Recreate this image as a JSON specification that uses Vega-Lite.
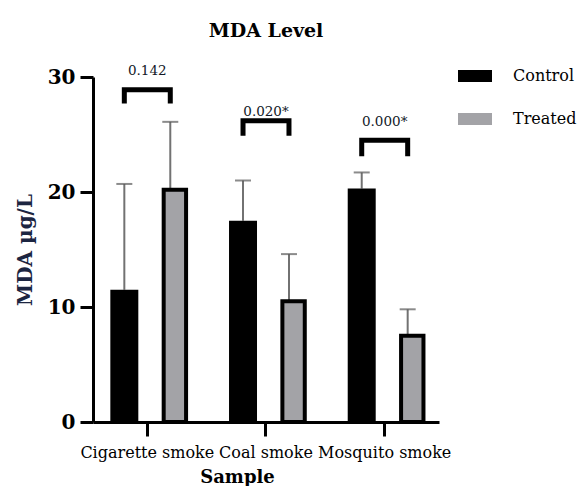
{
  "$schema": "https://vega.github.io/schema/vega-lite/v6.json",
  "width": 346,
  "height": 345,
  "padding": {"left": 15, "top": 22, "right": 0, "bottom": 0},
  "title": {"text": "MDA Level", "font": "DejaVu Serif", "fontSize": 19, "fontWeight": "bold", "color": "#000000", "offset": 18},
  "datasets": {
    "bars": [
      {"sample": "Cigarette smoke", "group": "Control", "mean": 11.5, "upper": 20.7},
      {"sample": "Cigarette smoke", "group": "Treated", "mean": 20.2, "upper": 26.1},
      {"sample": "Coal smoke", "group": "Control", "mean": 17.5, "upper": 21.0},
      {"sample": "Coal smoke", "group": "Treated", "mean": 10.5, "upper": 14.6},
      {"sample": "Mosquito smoke", "group": "Control", "mean": 20.3, "upper": 21.7},
      {"sample": "Mosquito smoke", "group": "Treated", "mean": 7.5, "upper": 9.8}
    ],
    "brackets": [
      {"sample": "Cigarette smoke", "group": "Control", "y": 27.7, "ord": 1},
      {"sample": "Cigarette smoke", "group": "Control", "y": 28.9, "ord": 2},
      {"sample": "Cigarette smoke", "group": "Treated", "y": 28.9, "ord": 3},
      {"sample": "Cigarette smoke", "group": "Treated", "y": 27.7, "ord": 4},
      {"sample": "Coal smoke", "group": "Control", "y": 24.9, "ord": 1},
      {"sample": "Coal smoke", "group": "Control", "y": 26.2, "ord": 2},
      {"sample": "Coal smoke", "group": "Treated", "y": 26.2, "ord": 3},
      {"sample": "Coal smoke", "group": "Treated", "y": 24.9, "ord": 4},
      {"sample": "Mosquito smoke", "group": "Control", "y": 23.1, "ord": 1},
      {"sample": "Mosquito smoke", "group": "Control", "y": 24.5, "ord": 2},
      {"sample": "Mosquito smoke", "group": "Treated", "y": 24.5, "ord": 3},
      {"sample": "Mosquito smoke", "group": "Treated", "y": 23.1, "ord": 4}
    ],
    "pvals": [
      {"sample": "Cigarette smoke", "p": "0.142", "y": 30.5},
      {"sample": "Coal smoke", "p": "0.020*", "y": 27.0},
      {"sample": "Mosquito smoke", "p": "0.000*", "y": 26.1}
    ]
  },
  "encoding": {
    "x": {
      "field": "sample", "type": "nominal", "sort": ["Cigarette smoke", "Coal smoke", "Mosquito smoke"],
      "scale": {"paddingInner": 0.377, "paddingOuter": 0.146},
      "axis": {
        "title": "Sample", "labelAngle": 0, "labelFont": "DejaVu Serif", "labelFontSize": 16, "labelColor": "#000000",
        "labelPadding": 8, "tickSize": 14, "tickWidth": 3, "tickColor": "#000000", "domainWidth": 3, "domainColor": "#000000",
        "titleFont": "DejaVu Serif", "titleFontSize": 18, "titleFontWeight": "bold", "titleColor": "#000000", "titlePadding": 8, "titleX": 144
      }
    }
  },
  "layer": [
    {
      "data": {"name": "bars"},
      "mark": {"type": "rule", "color": "#727272", "strokeWidth": 2},
      "encoding": {
        "xOffset": {"field": "group", "type": "nominal", "scale": {"paddingInner": 0.391, "paddingOuter": 0}},
        "y": {"field": "mean", "type": "quantitative"},
        "y2": {"field": "upper"}
      }
    },
    {
      "data": {"name": "bars"},
      "mark": {"type": "tick", "color": "#5a5a5a", "thickness": 2, "size": 16},
      "encoding": {
        "xOffset": {"field": "group", "type": "nominal"},
        "y": {"field": "upper", "type": "quantitative"}
      }
    },
    {
      "data": {"name": "bars"},
      "transform": [{"filter": "datum.group === 'Control'"}],
      "mark": {"type": "bar"},
      "encoding": {
        "xOffset": {"field": "group", "type": "nominal"},
        "y": {
          "field": "mean", "type": "quantitative",
          "scale": {"domain": [0, 30], "nice": false},
          "axis": {
            "title": "MDA µg/L", "values": [0, 10, 20, 30], "grid": false,
            "labelFont": "DejaVu Serif", "labelFontSize": 20, "labelFontWeight": "bold", "labelColor": "#000000", "labelPadding": 5,
            "tickSize": 13, "tickWidth": 3, "tickColor": "#000000", "domainWidth": 3, "domainColor": "#000000",
            "titleFont": "DejaVu Serif", "titleFontSize": 20, "titleFontWeight": "bold", "titleColor": "#1c2541", "titlePadding": 12
          }
        },
        "color": {
          "field": "group", "type": "nominal",
          "scale": {"domain": ["Control", "Treated"], "range": ["#000000", "#a3a3a7"]},
          "legend": {
            "title": null, "orient": "none", "legendX": 365, "legendY": -18,
            "symbolType": "M-1,-0.35H1V0.35H-1Z", "symbolSize": 1156, "symbolStrokeWidth": 0,
            "rowPadding": 18, "labelOffset": 21, "labelFont": "DejaVu Serif", "labelFontSize": 16, "labelColor": "#000000"
          }
        }
      }
    },
    {
      "data": {"name": "bars"},
      "transform": [{"filter": "datum.group === 'Treated'"}],
      "mark": {"type": "bar", "stroke": "#000000", "strokeWidth": 4, "width": {"band": 0.8}},
      "encoding": {
        "xOffset": {"field": "group", "type": "nominal"},
        "y": {"field": "mean", "type": "quantitative"},
        "color": {"field": "group", "type": "nominal"}
      }
    },
    {
      "data": {"name": "brackets"},
      "mark": {"type": "line", "color": "#000000", "strokeWidth": 5, "strokeJoin": "miter", "strokeCap": "butt"},
      "encoding": {
        "xOffset": {"field": "group", "type": "nominal"},
        "y": {"field": "y", "type": "quantitative"},
        "detail": {"field": "sample"},
        "order": {"field": "ord", "type": "quantitative"}
      }
    },
    {
      "data": {"name": "pvals"},
      "mark": {"type": "text", "font": "DejaVu Serif", "fontSize": 13.5, "color": "#111827", "baseline": "middle"},
      "encoding": {
        "y": {"field": "y", "type": "quantitative"},
        "text": {"field": "p"}
      }
    }
  ],
  "config": {"view": {"stroke": null}}
}
